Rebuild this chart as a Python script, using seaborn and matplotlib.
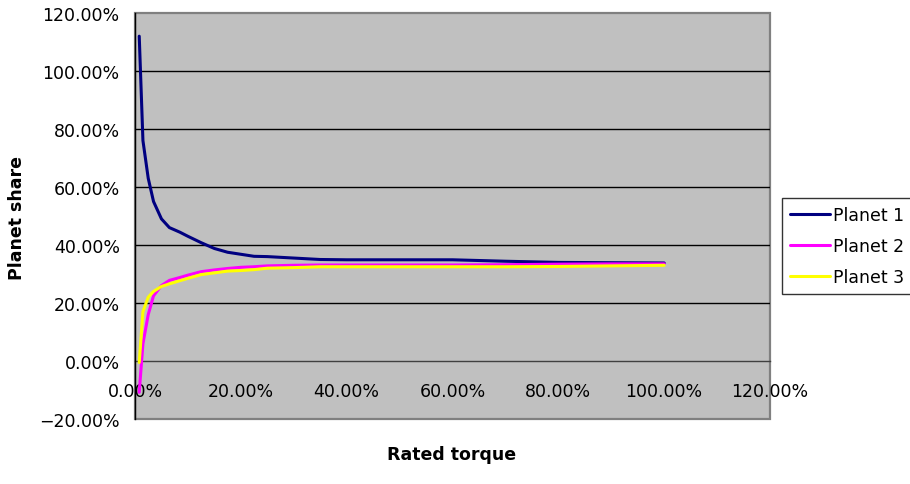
import numpy as np
import pandas as pd
import matplotlib
matplotlib.use("Agg")
import matplotlib.pyplot as plt
from matplotlib.ticker import PercentFormatter, MultipleLocator
from matplotlib.patches import Rectangle
from matplotlib.lines import Line2D
import seaborn as sns

# Rated torque (fraction)
rated_torque = [0.008, 0.015, 0.025, 0.035, 0.05, 0.065, 0.085, 0.10, 0.125, 0.15,
                0.175, 0.20, 0.225, 0.25, 0.30, 0.35, 0.40, 0.50, 0.60, 0.70,
                0.80, 0.90, 1.00]
planet_1 = [1.12, 0.76, 0.63, 0.55, 0.49, 0.46, 0.444, 0.43, 0.408, 0.388,
            0.375, 0.368, 0.361, 0.360, 0.355, 0.350, 0.349, 0.349, 0.349, 0.344,
            0.340, 0.339, 0.338]
planet_2 = [-0.108, 0.06, 0.16, 0.225, 0.26, 0.278, 0.288, 0.296, 0.308, 0.314,
            0.319, 0.323, 0.325, 0.328, 0.330, 0.331, 0.331, 0.331, 0.331, 0.332,
            0.334, 0.335, 0.335]
planet_3 = [-0.005, 0.17, 0.22, 0.24, 0.257, 0.266, 0.277, 0.285, 0.298, 0.304,
            0.310, 0.312, 0.315, 0.320, 0.322, 0.325, 0.325, 0.325, 0.325, 0.325,
            0.326, 0.328, 0.330]
series_names = ["Planet 1", "Planet 2", "Planet 3"]
series_colors = ["#000080", "#FF00FF", "#FFFF00"]

df = pd.concat([
    pd.DataFrame({"Rated torque": rated_torque, "Planet share": vals, "Series": name})
    for name, vals in zip(series_names, [planet_1, planet_2, planet_3])
])

sns.set_style("white")
plt.rcParams["font.family"] = ["DejaVu Sans"]
plt.rcParams["text.color"] = "black"
FS = 12.5

fig = plt.figure(figsize=(9.1, 4.85), dpi=100)
ax = fig.add_axes([135/910, (485-420)/485, (770-135)/910, (420-14)/485])
ax.set_facecolor("#C0C0C0")

sns.lineplot(data=df, x="Rated torque", y="Planet share", hue="Series",
             palette=series_colors, linewidth=2.2, ax=ax, sort=False,
             estimator=None, errorbar=None, legend=False, zorder=5)

ax.set_xlim(0, 1.2)
ax.set_ylim(-0.2, 1.2)
ax.xaxis.set_major_locator(MultipleLocator(0.2))
ax.yaxis.set_major_locator(MultipleLocator(0.2))
ax.xaxis.set_major_formatter(PercentFormatter(xmax=1, decimals=2))
ax.yaxis.set_major_formatter(PercentFormatter(xmax=1, decimals=2))

for y in [0.2, 0.4, 0.6, 0.8, 1.0]:
    ax.axhline(y, color="black", lw=1.0, zorder=1)

ax.spines["top"].set_visible(False)
ax.spines["right"].set_visible(False)
ax.spines["left"].set_color("black")
ax.spines["left"].set_linewidth(1.0)
ax.spines["left"].set_zorder(3)
ax.spines["bottom"].set_position(("data", 0))
ax.spines["bottom"].set_color("#404040")
ax.spines["bottom"].set_linewidth(1.0)
ax.add_patch(Rectangle((0, 0), 1, 1, transform=ax.transAxes, fill=False,
                       edgecolor="#808080", lw=1.6, zorder=0.5, clip_on=False))

ax.tick_params(axis="both", labelsize=FS, colors="black", length=5, width=1,
               direction="out")
ax.tick_params(axis="x", pad=10)
ax.tick_params(axis="y", pad=6)

ax.set_xlabel("")
ax.set_ylabel("")
fig.text(452/910, 1 - 455/485, "Rated torque", ha="center", va="center",
         fontsize=FS, fontweight="bold", color="black")
fig.text(17/910, 1 - 218/485, "Planet share", ha="center", va="center",
         rotation=90, fontsize=FS, fontweight="bold", color="black")

handles = [Line2D([], [], color=c, lw=2.2) for c in series_colors]
leg = ax.legend(handles, series_names, loc="center left",
                bbox_to_anchor=((782-135)/635, (420-247)/406),
                frameon=True, fancybox=False, edgecolor="black",
                fontsize=FS, handlelength=2.3, handletextpad=0.2,
                borderpad=0.45, labelspacing=0.75, borderaxespad=0)
leg.get_frame().set_linewidth(1.0)
for t in leg.get_texts():
    t.set_color("black")

fig.savefig("out.png", dpi=100, facecolor="white")
